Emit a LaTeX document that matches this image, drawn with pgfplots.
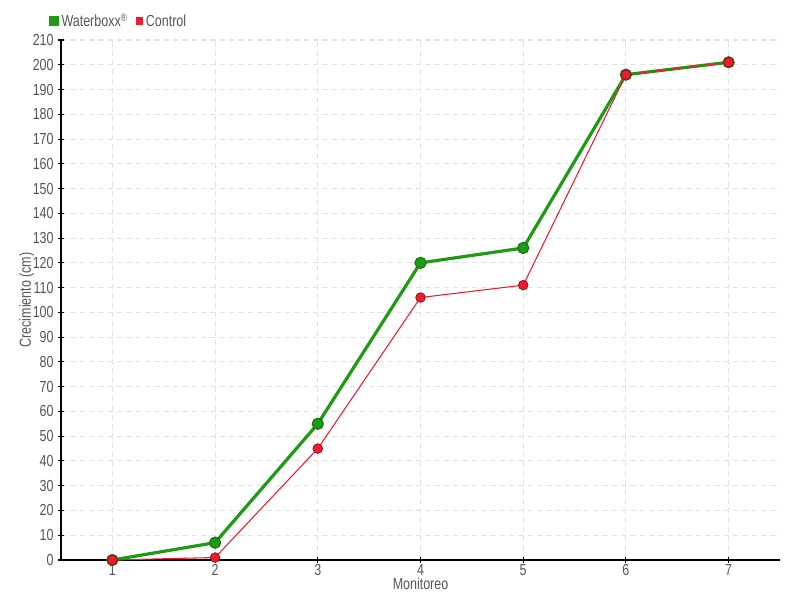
\documentclass[border=0pt]{standalone}
\usepackage{fontspec}
\setmainfont{Liberation Sans}[FakeStretch=0.78]
\usepackage{pgfplots}
\pgfplotsset{compat=1.18}
\usetikzlibrary{calc}
\definecolor{wgreen}{HTML}{1E9A14}
\definecolor{wgreendark}{HTML}{1A6E12}
\definecolor{cred}{HTML}{EE1C2E}
\definecolor{creddark}{HTML}{9A1020}
\definecolor{txt}{HTML}{555555}
\definecolor{gridc}{HTML}{E2E2E2}
\begin{document}
\begin{tikzpicture}
\begin{axis}[
  scale only axis, width=539.25pt, height=390pt,
  xmin=0.5, xmax=7.5, ymin=0, ymax=210,
  xtick={1,...,7}, ytick={0,10,...,210},
  axis x line*=bottom, axis y line*=left,
  axis line style={black, line width=0.8pt},
  grid=major, grid style={gridc, dash pattern=on 4pt off 3pt, line width=0.8pt},
  tick style={black, line width=0.8pt}, major tick length=4pt,
  tick align=center,
  /pgf/number format/assume math mode=true,
  ticklabel style={font=\fontsize{12}{12}\selectfont, text=txt},
  xticklabel style={anchor=center, yshift=-5.5pt, inner sep=0.5pt},
  xlabel={Monitoreo}, ylabel={Crecimiento (cm)},
  label style={font=\fontsize{12}{12}\selectfont, text=txt},
  xlabel style={at={(axis description cs:0.5,0)}, anchor=center, yshift=-18pt, inner sep=0.5pt},
  ylabel style={yshift=-8pt},
  legend style={at={(rel axis cs:-0.017,1)}, anchor=west, yshift=14pt, draw=none, fill=none,
    font=\fontsize{12}{12}\selectfont, text=txt, inner sep=0pt,
    /tikz/every even column/.append style={column sep=4pt}},
  legend columns=2,
  legend image code/.code={\fill[#1] (0pt,-2.5pt) rectangle (5pt,2.5pt);},
  legend cell align=left,
  clip=false,
]
\addplot[wgreen, line width=2.4pt, mark=*, mark size=4.2pt, mark options={fill=wgreen, draw=wgreendark, line width=0.8pt}] coordinates {
(1,0) (2,7) (3,55) (4,120) (5,126) (6,196) (7,201)};
\addlegendentry{Waterboxx\textsuperscript{\textregistered}}
\addplot[cred, line width=0.8pt, mark=*, mark size=3.6pt, mark options={fill=cred, draw=creddark, line width=0.6pt}] coordinates {
(1,0) (2,1) (3,45) (4,106) (5,111) (6,196) (7,201)};
\addlegendentry{Control}
\coordinate (sw) at (rel axis cs:0,0);
\coordinate (ne) at (rel axis cs:1,1);
\end{axis}
\path[use as bounding box] ($(sw)+(-45.75pt,-30pt)$) rectangle ($(ne)+(15pt,30pt)$);
\end{tikzpicture}
\end{document}
